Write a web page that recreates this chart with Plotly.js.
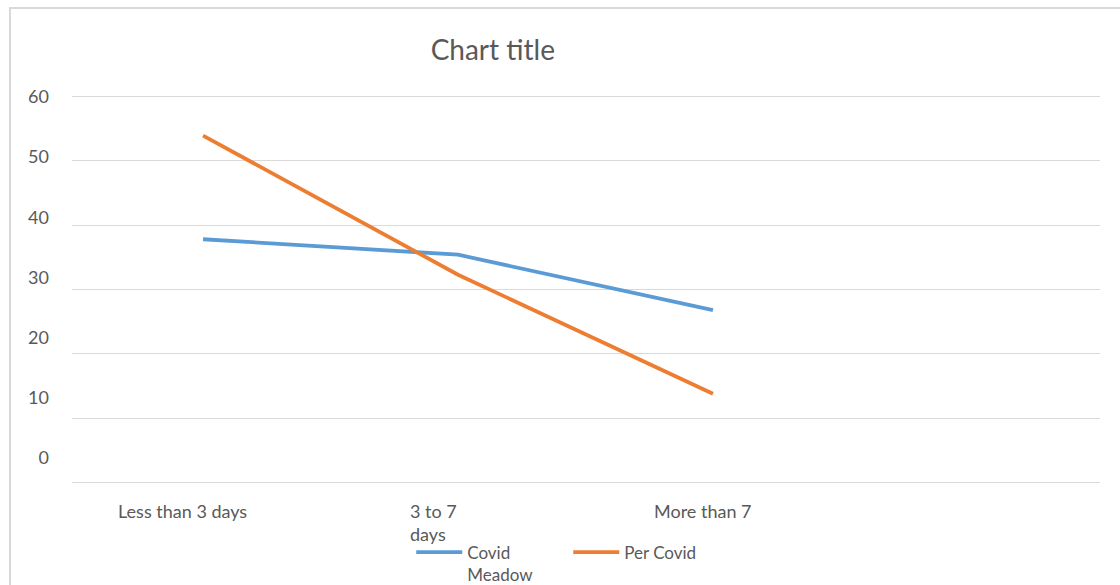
<!DOCTYPE html>
<html>
<head>
<meta charset="utf-8">
<script src="https://cdn.plot.ly/plotly-3.0.1.min.js"></script>
<style>
  html, body { margin: 0; padding: 0; background: #ffffff; }
  #chart { width: 1120px; height: 585px; }
</style>
</head>
<body>
<div id="chart"></div>
<script>
// Hospital stay length, two groups
const categories = ["Less than 3 days", "3 to 7<br>days", "More than 7"];
const covidMeadow = [37.8, 35.4, 26.8];
const perCovid = [53.9, 32.3, 13.8];
const seriesNames = ["Covid<br>Meadow", "Per Covid"];
const yTickValues = [0, 10, 20, 30, 40, 50, 60];

const FONT = "Lato, 'Open Sans', sans-serif";
const TEXT_GRAY = "#595959";
const GRID = "#d9d9d9";

const xIdx = categories.map((_, i) => i);

const traces = [
  {
    x: xIdx, y: covidMeadow, name: seriesNames[0], type: "scatter", mode: "lines",
    line: { color: "#5B9BD5", width: 3.8 }, hoverinfo: "y"
  },
  {
    x: xIdx, y: perCovid, name: seriesNames[1], type: "scatter", mode: "lines",
    line: { color: "#ED7D31", width: 3.8 }, hoverinfo: "y"
  },
  // empty trace so the label axis gets its own subplot
  { x: [], y: [], yaxis: "y2", type: "scatter", mode: "lines", showlegend: false, hoverinfo: "skip" }
];

// category labels under the plot, nudged the way the original axis places them
const labelShift = [-21, -25, -10];
const labelAlign = ["center", "left", "center"];
const annotations = categories.map((c, i) => ({
  x: i, xref: "x", y: 0, yref: "paper",
  yanchor: "top", xanchor: "center", yshift: -14, xshift: labelShift[i],
  text: c, showarrow: false, align: labelAlign[i],
  font: { family: FONT, size: 18, color: TEXT_GRAY }
}));

const layout = {
  width: 1120, height: 585,
  margin: { l: 72, r: 20, t: 95, b: 101, autoexpand: false },
  paper_bgcolor: "#ffffff", plot_bgcolor: "#ffffff",
  title: {
    text: "Chart title", x: 0.44, xanchor: "center", y: 0.914, yanchor: "middle",
    font: { family: FONT, size: 28, color: TEXT_GRAY }
  },
  xaxis: {
    range: [-0.514, 3.518], showticklabels: false, showgrid: false,
    zeroline: false, showline: false, fixedrange: true
  },
  yaxis: {
    range: [-0.2, 60.2], tickvals: yTickValues, showticklabels: false,
    showgrid: true, gridcolor: GRID, gridwidth: 1, zeroline: false, showline: false,
    fixedrange: true
  },
  // tick labels carried on an overlaid axis with its own spacing
  yaxis2: {
    overlaying: "y", side: "left", anchor: "x",
    range: [-4.32, 60.33], tickvals: yTickValues,
    showgrid: false, zeroline: false, showline: false,
    ticks: "", ticklabelstandoff: 22,
    tickfont: { family: FONT, size: 18, color: TEXT_GRAY },
    fixedrange: true
  },
  showlegend: true,
  legend: {
    orientation: "h", x: 0.33, xanchor: "left", y: -0.13, yanchor: "top",
    entrywidth: 96, entrywidthmode: "pixels", valign: "top",
    font: { family: FONT, size: 17, color: TEXT_GRAY },
    bgcolor: "rgba(0,0,0,0)", itemwidth: 46, tracegroupgap: 0
  },
  annotations: annotations,
  shapes: [
    {
      type: "path", xref: "paper", yref: "paper",
      path: "M -0.0603,-0.3 L -0.0603,1.2237 L 1.1,1.2237",
      line: { color: GRID, width: 2 }
    }
  ]
};

Plotly.newPlot("chart", traces, layout, { displayModeBar: false, staticPlot: true });
</script>
</body>
</html>
